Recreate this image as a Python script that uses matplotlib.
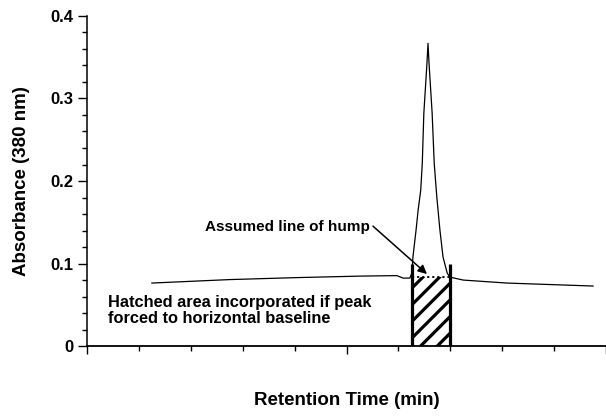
import numpy as np
import matplotlib.pyplot as plt
from matplotlib.ticker import MultipleLocator, FixedLocator

plt.rcParams["font.family"] = ["Liberation Sans", "DejaVu Sans"]
plt.rcParams["font.weight"] = "bold"
plt.rcParams["hatch.linewidth"] = 2.3

# chromatogram trace (retention time in arbitrary units, absorbance)
trace_time = [1.25, 2.75, 4.05, 5.26, 5.97, 6.09, 6.22, 6.26, 6.28, 6.34, 6.38,
              6.43, 6.46, 6.49, 6.55, 6.57, 6.59, 6.65, 6.69, 6.74, 6.80, 6.86,
              6.94, 6.99, 7.25, 8.09, 9.75]
trace_abs = [0.0767, 0.0809, 0.0833, 0.0851, 0.0857, 0.0827, 0.0827, 0.0888,
             0.1081, 0.1407, 0.1649, 0.1890, 0.2216, 0.2820, 0.3424, 0.3665,
             0.3424, 0.2820, 0.2216, 0.1806, 0.1407, 0.1081, 0.0888, 0.0839,
             0.0803, 0.0767, 0.0731]

# hatched block under the peak
hatch_start, hatch_end = 6.26, 6.99
hump_level = 0.084
bar_top = 0.1

y_ticks = [0, 0.1, 0.2, 0.3, 0.4]
y_tick_labels = ["0", "0.1", "0.2", "0.3", "0.4"]

fig = plt.figure(figsize=(6.06, 4.16), dpi=100)
ax = fig.add_axes([0.1436, 0.1671, 0.8564, 0.7952])

ax.plot(trace_time, trace_abs, color="black", lw=0.9)

# hatched area and its boundaries
ax.fill_between([hatch_start, hatch_end], 0, hump_level, facecolor="none",
                edgecolor="black", hatch="//", lw=0)
ax.vlines([hatch_start, hatch_end], 0, bar_top, color="black", lw=2.3)
ax.hlines(hump_level, hatch_start, hatch_end, color="black", lw=1.3,
          linestyles=(0, (1.2, 1.6)))

ax.text(0.40, 0.062, "Hatched area incorporated if peak\nforced to horizontal baseline",
        fontsize=11.8, fontweight="bold", va="top", ha="left", linespacing=1.1)
ax.text(5.45, 0.144, "Assumed line of hump", fontsize=11, fontweight="bold",
        va="center", ha="right")
ax.annotate("", xy=(6.55, 0.0876), xytext=(5.51, 0.1455),
            arrowprops=dict(arrowstyle="-|>", color="black", lw=1.1,
                            mutation_scale=13, shrinkA=0, shrinkB=0))

ax.set_xlim(0, 10)
ax.set_ylim(0, 0.4)
ax.spines["top"].set_visible(False)
ax.spines["right"].set_visible(False)
ax.spines["left"].set_linewidth(1.1)
ax.spines["bottom"].set_linewidth(1.3)

ax.yaxis.set_major_locator(FixedLocator(y_ticks))
ax.set_yticklabels(y_tick_labels)
ax.yaxis.set_minor_locator(MultipleLocator(0.02))
ax.xaxis.set_major_locator(MultipleLocator(5))
ax.xaxis.set_minor_locator(MultipleLocator(1))
ax.tick_params(axis="x", which="major", direction="out", length=6, width=1, labelbottom=False)
ax.tick_params(axis="x", which="minor", direction="out", length=3.5, width=1)
ax.tick_params(axis="y", which="major", direction="out", length=6.5, width=1,
               labelsize=12, pad=3)
ax.tick_params(axis="y", which="minor", direction="out", length=3.5, width=1)
for lbl in ax.get_yticklabels():
    lbl.set_fontweight("bold")

ax.set_ylabel("Absorbance (380 nm)", fontsize=13.5, fontweight="bold", labelpad=15)
ax.set_xlabel("Retention Time (min)", fontsize=13.5, fontweight="bold", labelpad=26)

fig.savefig("out.png", dpi=100)
